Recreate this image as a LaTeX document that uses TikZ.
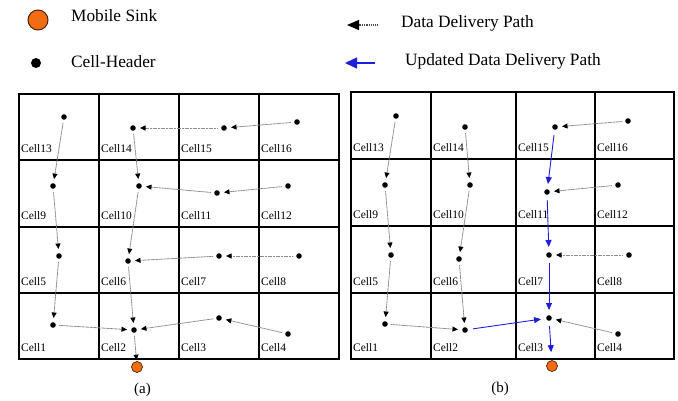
\documentclass[tikz,border=0pt]{standalone}
\usepackage{fontspec}
\setmainfont{Liberation Serif}
\usetikzlibrary{arrows.meta}
\definecolor{sinkorange}{RGB}{242,108,18}
\definecolor{sinkedge}{RGB}{80,35,10}
\definecolor{updblue}{RGB}{30,30,220}
\begin{document}
\begin{tikzpicture}[x=1pt,y=-1pt,
  hdr/.style={circle,fill=black,inner sep=0pt,minimum size=5.6pt},
  sink/.style={circle,fill=sinkorange,draw=sinkedge,line width=0.7pt,inner sep=0pt,minimum size=11pt},
  celllbl/.style={anchor=base west,inner sep=0pt,font=\fontsize{11.5}{12}\selectfont},
  legtxt/.style={anchor=base west,inner sep=0pt,font=\fontsize{17.3}{20}\selectfont},
  sublbl/.style={inner sep=0pt,font=\fontsize{15}{17}\selectfont},
  gridline/.style={line width=1.3pt,black},
  dpath/.style={draw=black!45,dash pattern=on 1.2pt off 0.4pt,line width=0.8pt,-{Triangle[length=5.5pt,width=5pt,color=black]},shorten >=4pt,shorten <=3pt},
  upath/.style={draw=updblue,line width=0.9pt,-{Triangle[length=7pt,width=6pt]},shorten >=5pt,shorten <=5pt},
]
\useasboundingbox (0,0) rectangle (678,400);

% ---------- legend ----------
\node[sink,minimum size=20pt,line width=1pt] (lsink) at (38,20) {};
\node[legtxt] (tsink) at (71,21.7) {Mobile Sink};
\node[hdr,minimum size=10pt] (lhdr) at (36,63) {};
\node[legtxt] (thdr) at (71,67.7) {Cell-Header};
\coordinate (ld1) at (378,25);
\coordinate (ld2) at (347,25);
\draw[draw=black!70,densely dotted,line width=1.1pt,-{Triangle[length=12pt,width=10pt,color=black]}] (ld1) -- (ld2);
\node[legtxt] (tdd) at (401,27.3) {Data Delivery Path};
\coordinate (lu1) at (375,63);
\coordinate (lu2) at (345,63);
\draw[draw=updblue,line width=1.4pt,-{Triangle[length=12pt,width=11pt]}] (lu1) -- (lu2);
\node[legtxt] (tud) at (405,65) {Updated Data Delivery Path};

% ---------- grid (a) ----------
\draw[gridline] (19,94) rectangle (339,359);
\draw[gridline] (99,94) -- (99,359) (179,94) -- (179,359) (259,94) -- (259,359);
\draw[gridline] (19,160) -- (339,160) (19,227) -- (339,227) (19,293) -- (339,293);

\node[celllbl] (la13) at (21,152) {Cell13};
\node[celllbl] (la14) at (101,152) {Cell14};
\node[celllbl] (la15) at (181,152) {Cell15};
\node[celllbl] (la16) at (261,152) {Cell16};
\node[celllbl] (la9) at (21,219) {Cell9};
\node[celllbl] (la10) at (101,219) {Cell10};
\node[celllbl] (la11) at (181,219) {Cell11};
\node[celllbl] (la12) at (261,219) {Cell12};
\node[celllbl] (la5) at (21,285) {Cell5};
\node[celllbl] (la6) at (101,285) {Cell6};
\node[celllbl] (la7) at (181,285) {Cell7};
\node[celllbl] (la8) at (261,285) {Cell8};
\node[celllbl] (la1) at (21,351) {Cell1};
\node[celllbl] (la2) at (101,351) {Cell2};
\node[celllbl] (la3) at (181,351) {Cell3};
\node[celllbl] (la4) at (261,351) {Cell4};

\node[hdr] (a13) at (64,117) {};
\node[hdr] (a14) at (133,128) {};
\node[hdr] (a15) at (224,128) {};
\node[hdr] (a16) at (297,122) {};
\node[hdr] (a9) at (53,186) {};
\node[hdr] (a10) at (139,186) {};
\node[hdr] (a11) at (217,193) {};
\node[hdr] (a12) at (288,186) {};
\node[hdr] (a5) at (59,256) {};
\node[hdr] (a6) at (128,261) {};
\node[hdr] (a7) at (219,256) {};
\node[hdr] (a8) at (299,256) {};
\node[hdr] (a1) at (53,325) {};
\node[hdr] (a2) at (134,330) {};
\node[hdr] (a3) at (219,318) {};
\node[hdr] (a4) at (288,334) {};
\node[sink] (asink) at (137,367) {};

\draw[dpath] (a13) -- (a9);
\draw[dpath] (a9) -- (a5);
\draw[dpath] (a5) -- (a1);
\draw[dpath] (a1) -- (a2);
\draw[dpath] (a14) -- (a10);
\draw[dpath] (a10) -- (a6);
\draw[dpath] (a6) -- (a2);
\draw[dpath,shorten >=1pt] (a2) -- (asink);
\draw[dpath] (a15) -- (a14);
\draw[dpath] (a16) -- (a15);
\draw[dpath] (a11) -- (a10);
\draw[dpath] (a12) -- (a11);
\draw[dpath] (a7) -- (a6);
\draw[dpath] (a8) -- (a7);
\draw[dpath] (a3) -- (a2);
\draw[dpath] (a4) -- (a3);

\node[sublbl] (capa) at (142.5,390) {(a)};

% ---------- grid (b) ----------
\draw[gridline] (351,92) rectangle (674,359);
\draw[gridline] (431,92) -- (431,359) (516,92) -- (516,359) (595,92) -- (595,359);
\draw[gridline] (351,159) -- (674,159) (351,226) -- (674,226) (351,293) -- (674,293);

\node[celllbl] (lb13) at (353,151) {Cell13};
\node[celllbl] (lb14) at (433,151) {Cell14};
\node[celllbl] (lb15) at (518,151) {Cell15};
\node[celllbl] (lb16) at (597,151) {Cell16};
\node[celllbl] (lb9) at (353,218) {Cell9};
\node[celllbl] (lb10) at (433,218) {Cell10};
\node[celllbl] (lb11) at (518,218) {Cell11};
\node[celllbl] (lb12) at (597,218) {Cell12};
\node[celllbl] (lb5) at (353,285) {Cell5};
\node[celllbl] (lb6) at (433,285) {Cell6};
\node[celllbl] (lb7) at (518,285) {Cell7};
\node[celllbl] (lb8) at (597,285) {Cell8};
\node[celllbl] (lb1) at (353,351) {Cell1};
\node[celllbl] (lb2) at (433,351) {Cell2};
\node[celllbl] (lb3) at (518,351) {Cell3};
\node[celllbl] (lb4) at (597,351) {Cell4};

\node[hdr] (b13) at (396,116) {};
\node[hdr] (b14) at (465,127) {};
\node[hdr] (b15) at (555,127) {};
\node[hdr] (b16) at (628,121) {};
\node[hdr] (b9) at (385,185) {};
\node[hdr] (b10) at (470,185) {};
\node[hdr] (b11) at (547,192) {};
\node[hdr] (b12) at (618,185) {};
\node[hdr] (b5) at (391,255) {};
\node[hdr] (b6) at (459,259) {};
\node[hdr] (b7) at (549,255) {};
\node[hdr] (b8) at (629,255) {};
\node[hdr] (b1) at (385,324) {};
\node[hdr] (b2) at (465,330) {};
\node[hdr] (b3) at (549,318) {};
\node[hdr] (b4) at (618,334) {};
\node[sink] (bsink) at (552,366) {};

\draw[dpath] (b13) -- (b9);
\draw[dpath] (b9) -- (b5);
\draw[dpath] (b5) -- (b1);
\draw[dpath] (b1) -- (b2);
\draw[dpath] (b14) -- (b10);
\draw[dpath] (b10) -- (b6);
\draw[dpath] (b6) -- (b2);
\draw[dpath] (b16) -- (b15);
\draw[dpath] (b12) -- (b11);
\draw[dpath] (b8) -- (b7);
\draw[dpath] (b4) -- (b3);

\draw[upath] (b15) -- (b11);
\draw[upath] (b11) -- (b7);
\draw[upath] (b7) -- (b3);
\draw[upath] (b2) -- (b3);
\draw[upath,shorten >=8pt] (b3) -- (bsink);

\node[sublbl] (capb) at (500,389) {(b)};
\end{tikzpicture}
\end{document}
